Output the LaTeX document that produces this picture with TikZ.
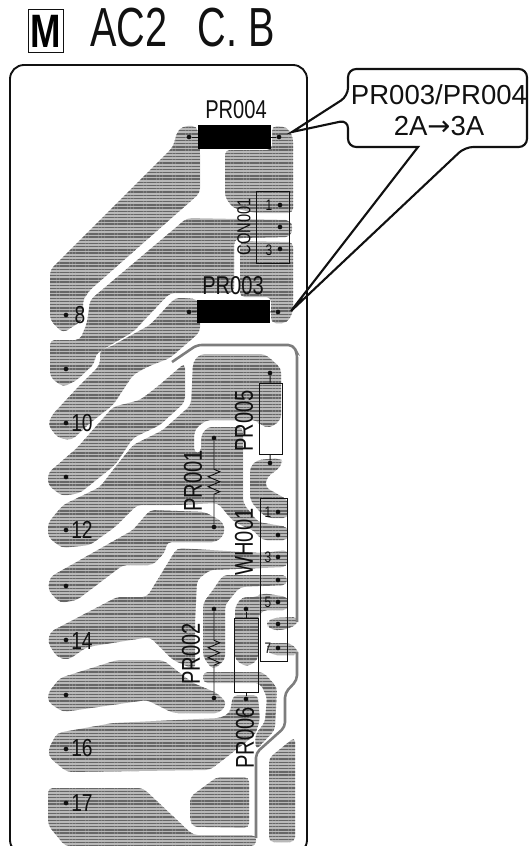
\documentclass[tikz,border=0pt]{standalone}
\usepackage{fontspec}
\setmainfont{Liberation Sans}
\newfontfamily\narrowfont[FakeStretch=0.78]{Liberation Sans}
\newfontfamily\titlefont[FakeStretch=0.72]{Liberation Sans}
\newfontfamily\arrowfont{DejaVu Sans}
\usetikzlibrary{patterns.meta, decorations.pathmorphing}
\definecolor{cubase}{HTML}{B9B9B9}
\definecolor{custripe}{HTML}{666666}
\definecolor{inkblack}{HTML}{111111}
\tikzset{
  cu/.style={fill=cubase, rounded corners=4pt, postaction={pattern={Lines[angle=0,distance=2.75pt,line width=1.15pt]}, pattern color=custripe}},
  culine/.style={draw=custripe!85, line width=2.2pt, rounded corners=4pt},
  board/.style={draw=inkblack, line width=1.6pt, rounded corners=12pt},
  callout/.style={draw=inkblack, line width=1.8pt},
  pinhole/.style={circle, fill=inkblack, inner sep=0pt, minimum size=4pt},
  lead/.style={draw=inkblack, line width=0.8pt},
  fusebox/.style={rectangle, fill=black, inner sep=0pt, minimum width=2.2cm, minimum height=0.7cm},
  partbox/.style={rectangle, draw=inkblack, line width=0.8pt, inner sep=0pt},
  partlbl/.style={font=\narrowfont\fontsize{22}{24}\selectfont, text=inkblack, inner sep=0pt},
  conlbl/.style={font=\narrowfont\fontsize{16}{18}\selectfont, text=inkblack, inner sep=0pt},
  numlbl/.style={font=\narrowfont\fontsize{21}{23}\selectfont, text=inkblack, inner sep=0pt},
  pinlbl/.style={font=\narrowfont\fontsize{13}{14}\selectfont, text=inkblack, inner sep=0pt},
  zz/.style={lead, decorate, decoration={zigzag, segment length=8.5pt, amplitude=5pt, pre length=24.5pt, post length=25pt}},
}

\begin{document}
\begin{tikzpicture}[x=0.03cm, y=-0.03cm]
\useasboundingbox (0,0) rectangle (529,846);

% title
\node[draw=inkblack, line width=0.8pt, minimum width=1.05cm, minimum height=1.3cm, inner sep=0pt,
      font=\narrowfont\bfseries\fontsize{40}{42}\selectfont] (Mbox) at (46,31) {M};
\node[font=\titlefont\fontsize{47}{49}\selectfont, anchor=west, inner sep=0pt, text=inkblack] (title) at (90,28) {AC2\hspace{0.55em}C.\hspace{0.2em}B};

% board outline
\draw[board] (10,65) rectangle (307,854);

% copper, top half
\path[cu] (183,126) -- (197,126) -- (200,150) -- (200,193) -- (90,290) -- (83,300) -- (83,320) -- (63,333) -- (50,320) -- (50,270) -- (173,147) -- (177,132) -- cycle;
\path[cu] (272,126) -- (287,127) -- (293,137) -- (293,213) -- (255,213) -- (233,208) -- (225,197) -- (225,150) -- (272,150) -- cycle;
\path[cu] (187,218) -- (290,220) -- (293,228) -- (290,237) -- (240,238) -- (234,240) -- (234,293) -- (170,293) -- (133,332) -- (107,347) -- (95,355) -- (95,363) -- (77,380) -- (63,387) -- (50,377) -- (50,340) -- (80,340) -- (87,323) -- (90,300) -- cycle;
\path[cu] (240,241) -- (293,242) -- (293,312) -- (287,323) -- (271,323) -- (271,297) -- (240,297) -- cycle;
\path[cu] (183,298) -- (197,299) -- (200,305) -- (200,332) -- (170,358) -- (147,367) -- (133,375) -- (113,405) -- (90,423) -- (72,440) -- (58,438) -- (48,425) -- (52,415) -- (80,385) -- (100,365) -- (100,350) -- (110,347) -- (137,332) -- (150,325) -- (175,298) -- cycle;
\path[cu] (185,363) -- (185,402) -- (160,425) -- (133,438) -- (115,465) -- (80,493) -- (62,496) -- (48,485) -- (48,473) -- (77,448) -- (113,407) -- (140,400) -- (157,387) -- cycle;

% copper, middle
\path[cu] (193,362) -- (200,354) -- (265,354) -- (281,368) -- (281,420) -- (270,428) -- (260,425) -- (257,420) -- (207,420) -- (197,427) -- (194,433) -- (194,453) -- (201,453) -- (201,436) -- (207,427) -- (243,427) -- (243,503) -- (258,522) -- (288,527) -- (288,540) -- (262,540) -- (253,530) -- (240,525) -- (232,520) -- (218,503) -- (177,505) -- (137,505) -- (115,527) -- (90,545) -- (62,548) -- (48,537) -- (48,523) -- (63,505) -- (100,487) -- (113,470) -- (133,445) -- (163,430) -- (191,405) -- cycle;
\path[cu] (250,467) -- (257,460) -- (280,458) -- (283,463) -- (277,470) -- (267,477) -- (265,487) -- (288,500) -- (288,518) -- (267,518) -- (258,510) -- (250,500) -- cycle;
\path[cu] (133,530) -- (150,510) -- (205,512) -- (223,522) -- (225,533) -- (217,542) -- (167,542) -- (165,552) -- (153,565) -- (123,565) -- (77,600) -- (60,603) -- (48,590) -- (50,577) -- cycle;
\path[cu] (177,548) -- (260,553) -- (288,550) -- (287,567) -- (210,570) -- (197,580) -- (195,623) -- (195,670) -- (173,660) -- (150,637) -- (87,647) -- (68,660) -- (57,657) -- (48,643) -- (50,632) -- (117,597) -- (147,597) -- cycle;
\path[cu] (223,575) -- (287,575) -- (287,585) -- (240,587) -- (225,605) -- (225,660) -- (213,670) -- (203,657) -- (203,603) -- (213,590) -- cycle;
\path[cu] (235,607) -- (242,597) -- (258,597) -- (262,593) -- (288,597) -- (288,610) -- (263,610) -- (258,617) -- (258,660) -- (247,667) -- (235,660) -- cycle;
\path[cu] (267,622) -- (273,618) -- (298,617) -- (297,625) -- (283,630) -- (272,630) -- (267,625) -- cycle;
\path[cu] (267,643) -- (290,643) -- (298,650) -- (298,655) -- (290,655) -- (272,655) -- (267,650) -- cycle;

% copper, lower pads
\path[cu] (48,693) -- (60,678) -- (117,660) -- (163,660) -- (193,683) -- (217,693) -- (227,703) -- (220,713) -- (173,713) -- (147,700) -- (63,712) -- (48,702) -- cycle;
\path[cu] (48,750) -- (57,733) -- (113,723) -- (220,718) -- (230,713) -- (233,695) -- (258,695) -- (260,720) -- (255,735) -- (210,770) -- (67,772) -- (50,758) -- cycle;
\path[cu] (203,672) -- (263,672) -- (277,687) -- (275,730) -- (256,750) -- (255,735) -- (265,722) -- (267,697) -- (260,683) -- (203,683) -- cycle;
\path[cu] (48,788) -- (143,788) -- (193,835) -- (256,835) -- (256,846) -- (65,846) -- (48,825) -- cycle;
\path[cu] (190,797) -- (217,777) -- (249,777) -- (249,828) -- (193,827) -- (190,820) -- cycle;
\path[cu] (295,737) -- (295,842) -- (269,842) -- (269,758) -- cycle;

% thin traces
\draw[culine] (172,362) -- (197,345) -- (293,345) -- (297,353) -- (297,622);
\draw[culine] (297,652) -- (297,680) -- (285,693) -- (285,727) -- (256,753) -- (256,838);

% PR004 / PR003
\node[fusebox] (PR4) at (234.5,137) {};
\node[fusebox] (PR3) at (233.5,311.5) {};
\node[pinhole] (P4a) at (189,137) {};
\node[pinhole] (P4b) at (279,137) {};
\node[pinhole] (P3a) at (189,312) {};
\node[pinhole] (P3b) at (278,312) {};
\draw[lead] (P4a) -- (PR4);
\draw[lead] (P4b) -- (PR4);
\draw[lead] (P3a) -- (PR3);
\draw[lead] (P3b) -- (PR3);
\node[partlbl] (L4) at (236,110) {PR004};
\node[partlbl] (L3) at (233,286) {PR003};

% CON001
\node[partbox, minimum width=0.99cm, minimum height=2.16cm] (CON) at (272.5,227) {};
\node[conlbl, rotate=90] (LC) at (244,227) {CON001};
\node[pinhole] (C1) at (280,205) {};
\node[pinhole] (C2) at (280,227) {};
\node[pinhole] (C3) at (280,249) {};
\node[pinlbl] (C1t) at (269,205) {1};
\node[pinlbl] (C3t) at (269,250) {3};

% edge pins and numbers
\node[pinhole] (E8) at (66,315) {};
\node[pinhole] (E9) at (66,369) {};
\node[pinhole] (E10) at (66,423) {};
\node[pinhole] (E11) at (66,477) {};
\node[pinhole] (E12) at (66,530) {};
\node[pinhole] (E13) at (66,586) {};
\node[pinhole] (E14) at (66,640) {};
\node[pinhole] (E15) at (66,695) {};
\node[pinhole] (E16) at (66,749) {};
\node[pinhole] (E17) at (66,803) {};
\node[numlbl] (N8) at (80,315) {8};
\node[numlbl] (N10) at (82,423) {10};
\node[numlbl] (N12) at (82,530) {12};
\node[numlbl] (N14) at (82,641) {14};
\node[numlbl] (N16) at (82,748) {16};
\node[numlbl] (N17) at (82,803) {17};

% PR005
\node[partbox, minimum width=0.69cm, minimum height=2.13cm] (PR5) at (270.5,418.5) {};
\node[pinhole] (P5a) at (270,373) {};
\node[pinhole] (P5b) at (270,463) {};
\draw[lead] (P5a) -- (PR5);
\draw[lead] (P5b) -- (PR5);
\node[partlbl, rotate=90] (L5) at (244,421) {PR005};

% PR001 / PR002
\node[pinhole] (P1a) at (214,438) {};
\node[pinhole] (P1b) at (214,527) {};
\draw[zz] (P1a) -- (P1b);
\node[partlbl, rotate=90] (L1) at (193,481) {PR001};
\node[pinhole] (P2a) at (214,609) {};
\node[pinhole] (P2b) at (214,698) {};
\draw[zz] (P2a) -- (P2b);
\node[partlbl, rotate=90] (L2) at (191,654) {PR002};

% PR006
\node[partbox, minimum width=0.72cm, minimum height=2.22cm] (PR6) at (246,655) {};
\node[pinhole] (P6a) at (246,609) {};
\node[pinhole] (P6b) at (246,699) {};
\draw[lead] (P6a) -- (PR6);
\draw[lead] (P6b) -- (PR6);
\node[partlbl, rotate=90] (L6) at (245,738) {PR006};

% WH001
\node[partbox, minimum width=0.81cm, minimum height=4.89cm] (WH) at (273.5,579.5) {};
\node[partlbl, rotate=90] (LW) at (244,542) {WH001};
\node[pinhole] (W1) at (278,512) {};
\node[pinhole] (W2) at (278,535) {};
\node[pinhole] (W3) at (278,557) {};
\node[pinhole] (W4) at (278,580) {};
\node[pinhole] (W5) at (278,602) {};
\node[pinhole] (W6) at (278,624) {};
\node[pinhole] (W7) at (278,648) {};
\node[pinlbl] (W1t) at (268,512) {1};
\node[pinlbl] (W3t) at (268,557) {3};
\node[pinlbl] (W5t) at (268,602) {5};
\node[pinlbl] (W7t) at (268,648) {7};

% callout
\coordinate (tipT) at (292,132);
\coordinate (tipB) at (291,311);
\draw[callout, rounded corners=7pt] (tipT) -- (348,96) -- (348,69) -- (527,69) -- (527,147) -- (465,147) [sharp corners] -- (tipB) -- (418,147) [rounded corners=7pt] -- (348,147) -- (348,120) [sharp corners] -- cycle;
\node[align=center, inner sep=0pt, text=inkblack, font=\fontsize{23.5}{26}\selectfont] (CT) at (439,110) {PR003/PR004\\2A{\arrowfont→}3A};
\end{tikzpicture}
\end{document}
